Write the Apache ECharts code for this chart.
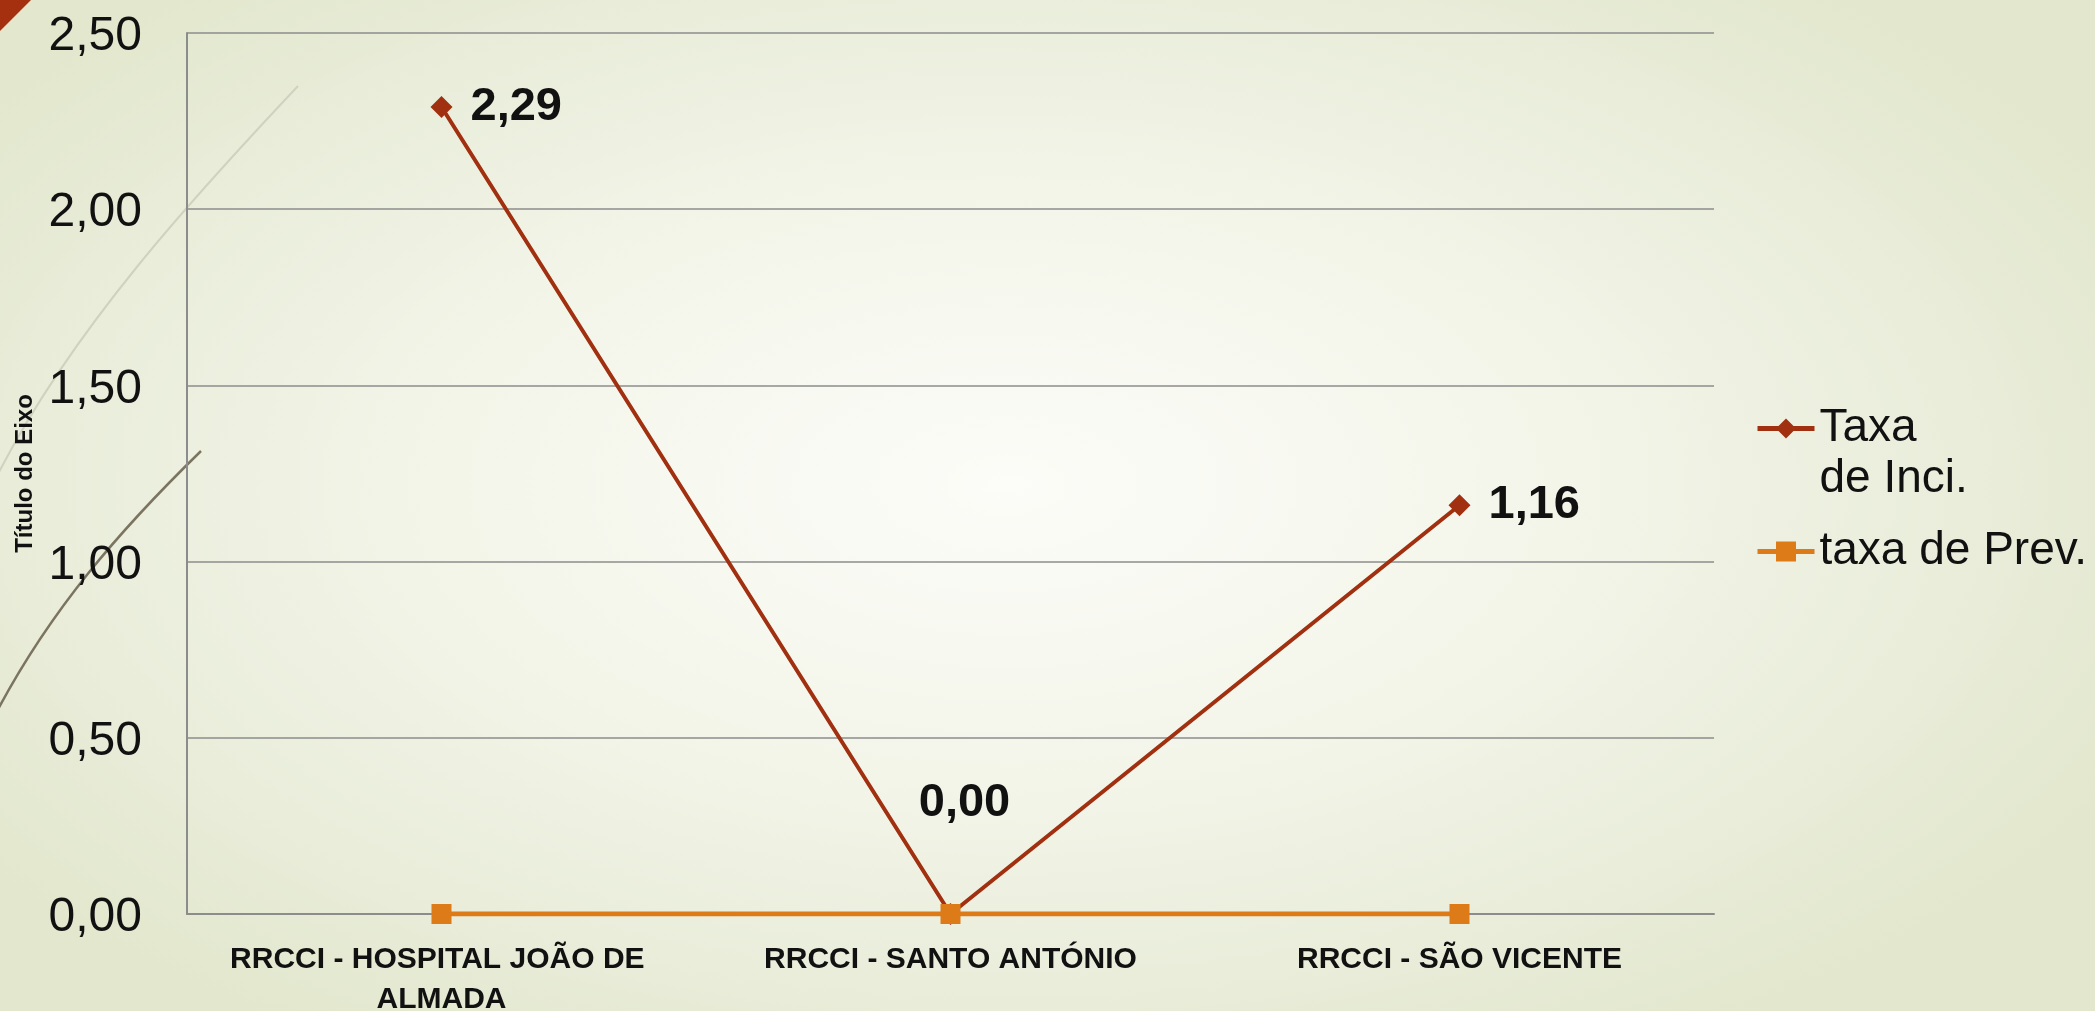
<!DOCTYPE html>
<html>
<head>
<meta charset="utf-8">
<script src="https://cdn.jsdelivr.net/npm/echarts@6/dist/echarts.min.js"></script>
<style>
html,body{margin:0;padding:0;width:2095px;height:1011px;overflow:hidden;
background: radial-gradient(ellipse 60% 65% at 48% 48%, #fcfcf8 0%, #f3f5e9 45%, #e8ecd8 80%, #e2e7cd 100%);}
#chart{width:2095px;height:1011px;}
</style>
</head>
<body>
<div id="chart"></div>
<script>
const categories = ['RRCCI - HOSPITAL JOÃO DE ALMADA', 'RRCCI - SANTO ANTÓNIO', 'RRCCI - SÃO VICENTE'];
const taxaInci = [2.29, 0.00, 1.16];
const taxaPrev = [0.00, 0.00, 0.00];
const seriesNames = ['Taxa de Inci.', 'taxa de Prev.'];
const yMin = 0, yMax = 2.5, yStep = 0.5;
const axisTitle = 'Título do Eixo';

const fmt = v => Number(v).toFixed(2).replace('.', ',');
const FONT = "'Liberation Sans', Arial, sans-serif";

const chart = echarts.init(document.getElementById('chart'), null, {renderer: 'canvas'});

const inciData = taxaInci.map((v, i) => {
  if (i === 1) {
    return {value: v, label: {position: 'top', distance: 76, offset: [14, 0]}};
  }
  return v;
});

const option = {
  backgroundColor: 'transparent',
  animation: false,
  graphic: [
    {type: 'polygon', shape: {points: [[0,0],[31,0],[0,31]]}, style: {fill: '#a5300f'}, silent: true},
    {type: 'bezierCurve', shape: {x1: 298, y1: 86, cpx1: 200, cpy1: 190, cpx2: 70, cpy2: 330, x2: -5, y2: 480},
      style: {stroke: '#cfd2bf', lineWidth: 2, fill: null}, silent: true, z: -1},
    {type: 'bezierCurve', shape: {x1: 201, y1: 451, cpx1: 120, cpy1: 530, cpx2: 50, cpy2: 610, x2: -5, y2: 715},
      style: {stroke: '#7b7461', lineWidth: 2.5, fill: null}, silent: true, z: -1}
  ],
  grid: {left: 187, right: 381, top: 33, bottom: 97, containLabel: false, outerBoundsMode: 'none'},
  legend: {
    orient: 'vertical',
    left: 1755,
    top: 352,
    itemWidth: 57,
    itemHeight: 25,
    itemGap: 21,
    padding: 0,
    lineStyle: {width: 5},
    textStyle: {fontFamily: FONT, fontSize: 46, color: '#111', lineHeight: 51},
    formatter: name => name === 'Taxa de Inci.' ? ' \nTaxa\nde Inci.' : name,
    data: [seriesNames[0], seriesNames[1]]
  },
  xAxis: {
    type: 'category',
    data: categories,
    boundaryGap: true,
    axisLine: {show: true, lineStyle: {color: '#8c8c8c', width: 2}},
    axisTick: {show: false},
    axisLabel: {
      fontFamily: FONT, fontWeight: 'bold', fontSize: 30, color: '#111',
      margin: 26, lineHeight: 40, width: 470, overflow: 'break', interval: 0
    }
  },
  yAxis: {
    type: 'value',
    min: yMin, max: yMax, interval: yStep,
    name: axisTitle,
    nameLocation: 'middle',
    nameGap: 146,
    nameRotate: 90,
    nameTextStyle: {fontFamily: FONT, fontWeight: 'bold', fontSize: 24, color: '#111'},
    axisLine: {show: true, lineStyle: {color: '#8c8c8c', width: 2}},
    axisTick: {show: false},
    splitLine: {show: true, lineStyle: {color: '#8c8c8c', width: 1.5}},
    axisLabel: {
      fontFamily: FONT, fontSize: 48, color: '#111', margin: 45,
      formatter: v => '{t|' + fmt(v) + '}',
      rich: {t: {fontFamily: FONT, fontSize: 48, color: '#111', padding: [8, 0, 0, 0]}}
    }
  },
  series: [
    {
      name: seriesNames[0],
      type: 'line',
      data: inciData,
      symbol: 'diamond',
      symbolSize: 22,
      showAllSymbol: true,
      itemStyle: {color: '#a0300f'},
      lineStyle: {color: '#a0300f', width: 4},
      label: {
        show: true, position: 'right', distance: 18,
        fontFamily: FONT, fontWeight: 'bold', fontSize: 47, color: '#111',
        formatter: p => fmt(p.value)
      },
      z: 3
    },
    {
      name: seriesNames[1],
      type: 'line',
      data: taxaPrev,
      symbol: 'rect',
      symbolSize: 20,
      showAllSymbol: true,
      itemStyle: {color: '#dc7b18'},
      lineStyle: {color: '#dc7b18', width: 5},
      label: {show: false},
      z: 4
    }
  ]
};
chart.setOption(option);
</script>
</body>
</html>
